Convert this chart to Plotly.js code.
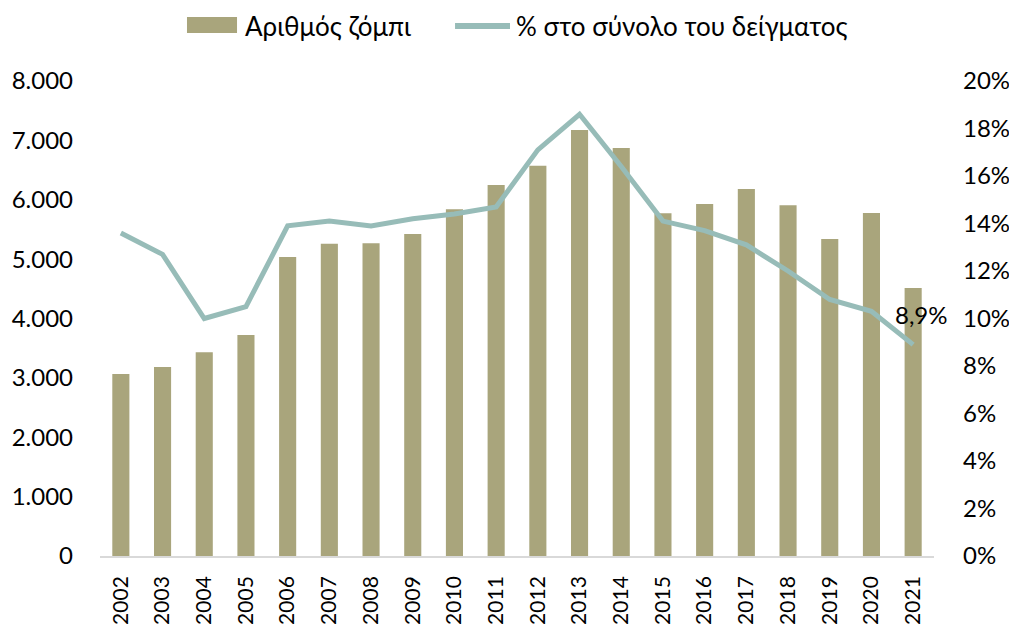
<!DOCTYPE html>
<html>
<head>
<meta charset="utf-8">
<script src="https://cdn.plot.ly/plotly-3.0.1.min.js"></script>
<style>html,body{margin:0;padding:0;background:#fff}#chart{width:1009px;height:632px}</style>
</head>
<body>
<div id="chart"></div>
<script>
const years = ["2002","2003","2004","2005","2006","2007","2008","2009","2010","2011","2012","2013","2014","2015","2016","2017","2018","2019","2020","2021"];
const zombieCount = [3065,3183,3431,3722,5036,5260,5267,5423,5839,6248,6574,7175,6872,5772,5928,6181,5906,5339,5777,4514];
const sharePct = [13.6,12.7,10.0,10.5,13.9,14.1,13.9,14.2,14.4,14.7,17.1,18.6,16.4,14.1,13.7,13.1,12.0,10.8,10.3,8.9];
const barName = "Αριθμός ζόμπι";
const lineName = "% στο σύνολο του δείγματος";
const leftTicks = [0,1000,2000,3000,4000,5000,6000,7000,8000];
const rightTicks = [0,2,4,6,8,10,12,14,16,18,20];
const rightTickText = rightTicks.map(v => v + '%');

const BAR_COLOR = '#A9A57C';
const LINE_COLOR = '#97BCB8';
const FONT = "Lato, 'Open Sans', sans-serif";
const lastIdx = years.length - 1;
const lastLabel = sharePct[lastIdx].toFixed(1).replace('.', ',') + '%';

const data = [
  {type:'bar', x:years, y:zombieCount, name:barName, marker:{color:BAR_COLOR}, yaxis:'y', showlegend:false},
  {type:'scatter', mode:'lines', x:years, y:sharePct, name:lineName, yaxis:'y2', showlegend:false,
   line:{color:LINE_COLOR, width:5}}
];
const layout = {
  width:1009, height:632,
  margin:{l:100, r:75, t:81, b:76},
  paper_bgcolor:'#fff', plot_bgcolor:'#fff',
  separators:',.',
  font:{family:FONT, size:22, color:'#000'},
  bargap:0.59,
  showlegend:false,
  xaxis:{type:'category', range:[-0.5, years.length - 0.5], tickangle:-90, showline:true,
         linecolor:'#D9D9D9', linewidth:1.5, ticks:'', showgrid:false, ticklabelstandoff:10,
         tickfont:{family:FONT, size:21}},
  yaxis:{range:[0,8000], tickmode:'array', tickvals:leftTicks, tickformat:',d', showgrid:false, zeroline:false,
         showline:false, ticks:'', ticklabelstandoff:26, tickfont:{family:FONT, size:24}},
  yaxis2:{range:[0,20], overlaying:'y', side:'right', tickmode:'array', tickvals:rightTicks, ticktext:rightTickText,
          showgrid:false, zeroline:false, showline:false, ticks:'', ticklabelstandoff:28,
          tickfont:{family:FONT, size:24}},
  shapes:[
    {type:'rect', xref:'paper', yref:'paper', x0:0.1043, x1:0.1643, y0:1.1011, y1:1.1347,
     fillcolor:BAR_COLOR, line:{width:0}},
    {type:'line', xref:'paper', yref:'paper', x0:0.4257, x1:0.4916, y0:1.1158, y1:1.1158,
     line:{color:LINE_COLOR, width:6}}
  ],
  annotations:[
    {x:lastIdx, y:sharePct[lastIdx], xref:'x', yref:'y2', text:lastLabel,
     showarrow:false, xshift:8, yshift:30, font:{family:FONT, size:24, color:'#000'}},
    {x:0.1715, y:1.1158, xref:'paper', yref:'paper', xanchor:'left', yanchor:'middle', text:barName,
     showarrow:false, font:{family:FONT, size:26, color:'#000'}},
    {x:0.4964, y:1.1158, xref:'paper', yref:'paper', xanchor:'left', yanchor:'middle', text:lineName,
     showarrow:false, font:{family:FONT, size:26, color:'#000'}}
  ]
};
Plotly.newPlot('chart', data, layout, {displayModeBar:false});
</script>
</body>
</html>
